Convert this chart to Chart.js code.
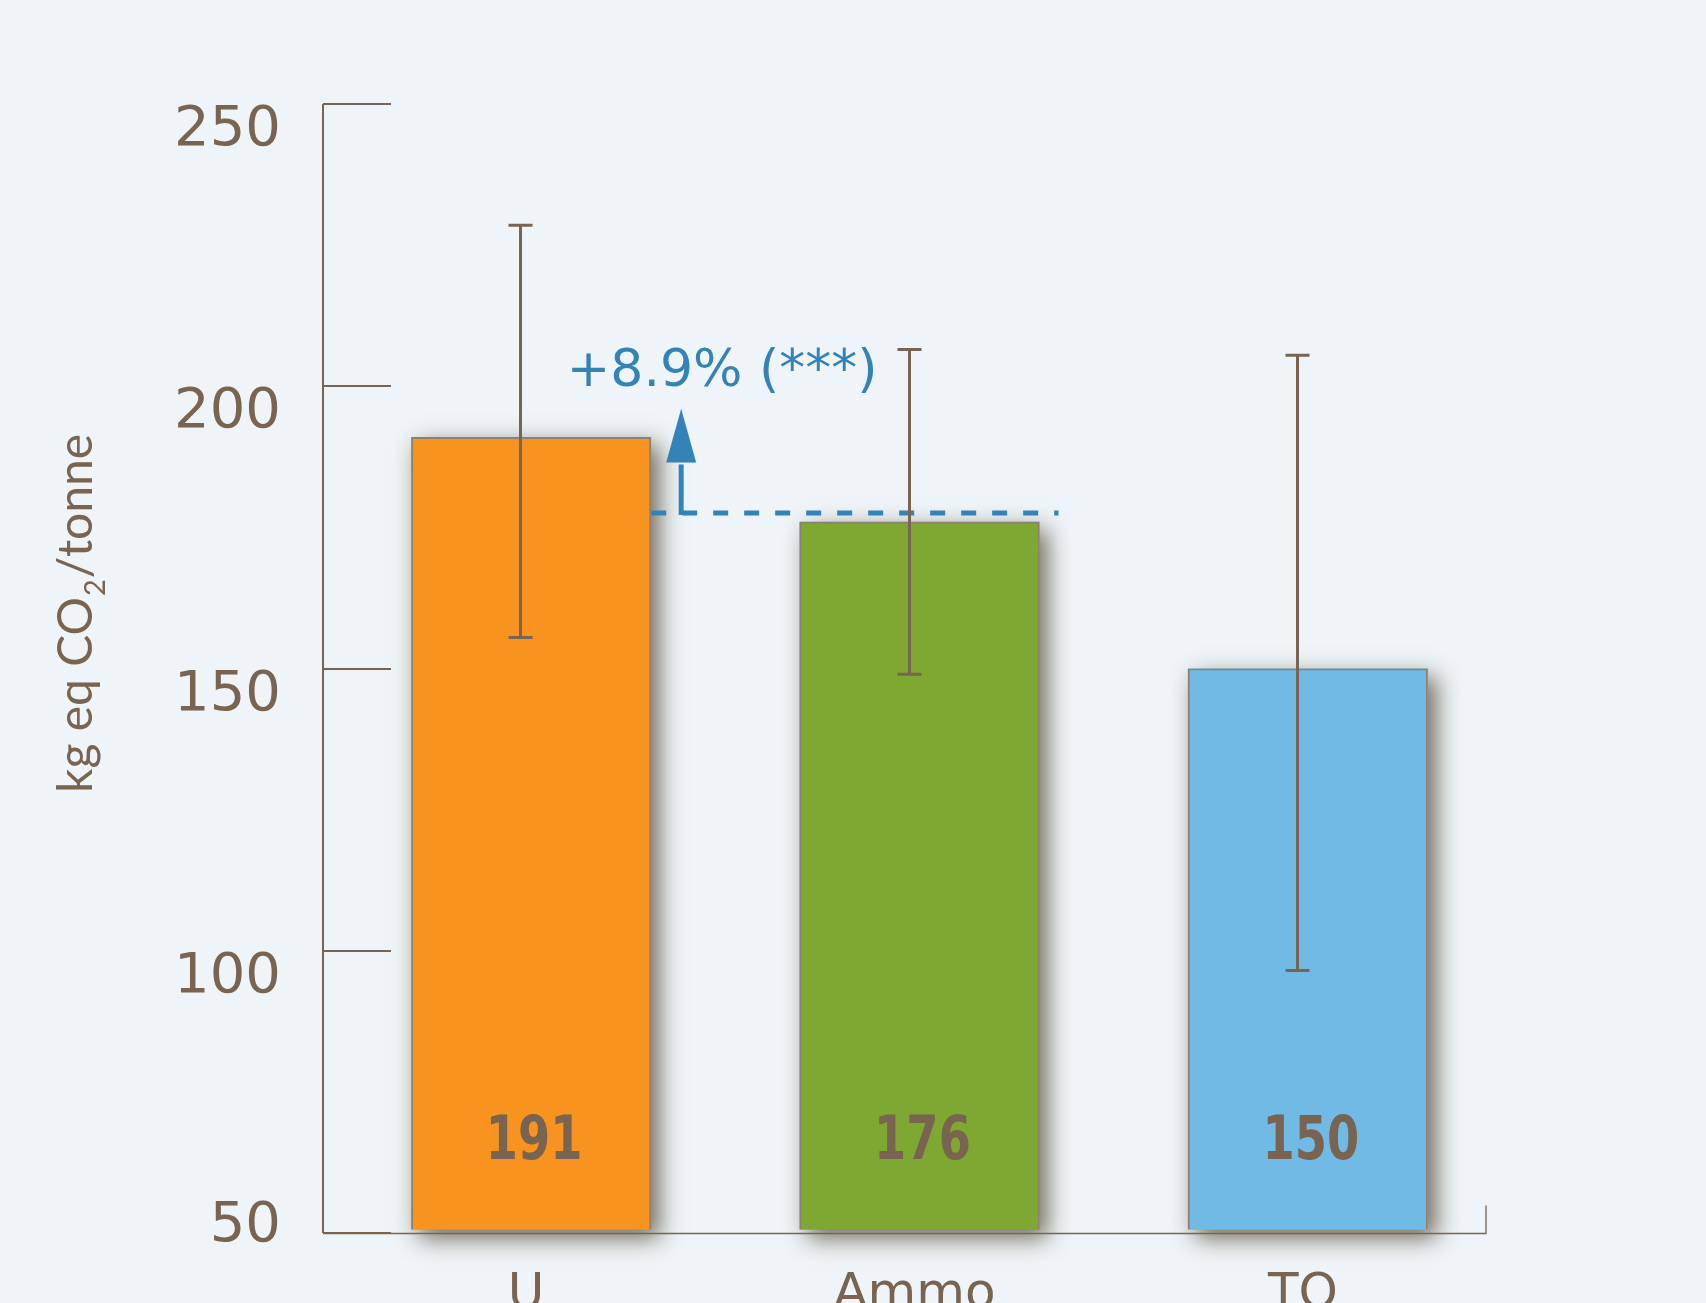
<!DOCTYPE html>
<html>
<head>
<meta charset="utf-8">
<title>kg eq CO2/tonne</title>
<script src="https://cdn.jsdelivr.net/npm/chart.js@4.4.0/dist/chart.umd.min.js"></script>
<style>
  html, body { margin: 0; padding: 0; background: #eef4f7; }
  canvas { display: block; }
</style>
</head>
<body>
<canvas id="myChart" width="1706" height="1303"></canvas>
<script>
const categories = ['U', 'Ammo', 'TO'];
const emissions = [191, 176, 150];
const errorLow = [155.5, 149, 96.5];
const errorHigh = [228.5, 206.5, 205.5];
const yTicks = [50, 100, 150, 200, 250];

// the "+8.9%" annotation between U and Ammo
const refLevel = 177.5;
const arrowTipLevel = 196;
const arrowHeadLevel = 186.5;
const gainText = '+8.9% (***)';
const gainTextLevel = 200;
const valueLabelLevel = 67;
const barBase = 50.6;

const barColors = ['#f7931e', '#7ea831', '#72bae6'];
const brown = '#786450';
const blue = '#3382b8';

const ctx = document.getElementById('myChart');

const overlay = {
    id: 'overlay',
    beforeDraw(chart) {
        const c = chart.ctx;
        c.save();
        c.fillStyle = '#eef4f7';
        c.fillRect(0, 0, chart.width, chart.height);
        c.restore();
    },
    beforeDatasetsDraw(chart) {
        // soft drop shadow behind every bar
        const c = chart.ctx;
        const bars = chart.getDatasetMeta(0).data;
        c.save();
        c.shadowColor = 'rgba(70, 58, 38, 0.75)';
        c.shadowBlur = 22;
        c.shadowOffsetX = 8;
        c.shadowOffsetY = 8;
        bars.forEach((bar, i) => {
            c.fillStyle = barColors[i];
            c.fillRect(bar.x - bar.width / 2, bar.y, bar.width, bar.base - bar.y);
        });
        c.restore();
    },
    afterDatasetsDraw(chart) {
        const c = chart.ctx;
        const area = chart.chartArea;
        const y = chart.scales.y;
        const bars = chart.getDatasetMeta(0).data;
        const axisX = area.left - 14;
        const axisEnd = area.right - 16;

        c.save();
        // axes
        c.strokeStyle = brown;
        c.lineWidth = 2;
        c.beginPath();
        c.moveTo(axisX, y.getPixelForValue(yTicks[yTicks.length - 1]));
        c.lineTo(axisX, y.getPixelForValue(yTicks[0]));
        c.stroke();
        yTicks.forEach(v => {
            const py = Math.round(y.getPixelForValue(v));
            c.beginPath();
            c.moveTo(axisX, py);
            c.lineTo(axisX + 68, py);
            c.stroke();
        });
        const bottom = Math.round(y.getPixelForValue(yTicks[0])) + 0.5;
        c.lineWidth = 1.3;
        c.beginPath();
        c.moveTo(axisX, bottom);
        c.lineTo(axisEnd, bottom);
        c.lineTo(axisEnd, bottom - 28);
        c.stroke();

        // tick labels
        c.fillStyle = brown;
        c.font = '56px "DejaVu Sans"';
        c.textAlign = 'right';
        yTicks.forEach((v, i) => {
            const py = y.getPixelForValue(v);
            c.fillText(String(v), axisX - 42, i === 0 ? py + 8 : py + 41);
        });

        // category labels
        c.font = '50px "DejaVu Sans"';
        c.textAlign = 'center';
        bars.forEach((bar, i) => {
            c.fillText(categories[i], bar.x - 5, area.bottom + 75);
        });

        // axis title
        c.save();
        c.translate(92, 793);
        c.rotate(-Math.PI / 2);
        c.textAlign = 'left';
        const fs = 48;
        c.font = fs + 'px Lato';
        let tx = 0;
        c.fillText('kg eq CO', tx, 0);
        tx += c.measureText('kg eq CO').width;
        c.font = Math.round(fs * 0.6) + 'px Lato';
        c.fillText('2', tx + 1, fs * 0.28);
        tx += c.measureText('2').width + 2;
        c.font = fs + 'px Lato';
        c.fillText('/tonne', tx, 0);
        c.restore();

        // dashed reference line
        const refY = Math.round(y.getPixelForValue(refLevel));
        const uRight = bars[0].x + bars[0].width / 2;
        const ammoRight = bars[1].x + bars[1].width / 2;
        c.strokeStyle = blue;
        c.lineWidth = 5;
        c.setLineDash([15, 16]);
        c.beginPath();
        c.moveTo(uRight, refY);
        c.lineTo(ammoRight + 19, refY);
        c.stroke();
        c.setLineDash([]);

        // arrow
        const ax = uRight + 30;
        const headY = y.getPixelForValue(arrowHeadLevel);
        const tipY = y.getPixelForValue(arrowTipLevel);
        c.lineWidth = 5;
        c.beginPath();
        c.moveTo(ax, refY + 2);
        c.lineTo(ax, headY + 2);
        c.stroke();
        c.fillStyle = blue;
        c.beginPath();
        c.moveTo(ax - 15, headY);
        c.lineTo(ax + 15, headY);
        c.lineTo(ax, tipY);
        c.closePath();
        c.fill();

        c.font = '52px "DejaVu Sans"';
        c.textAlign = 'center';
        c.fillText(gainText, ax + 41, y.getPixelForValue(gainTextLevel));

        // error bars
        c.strokeStyle = brown;
        c.lineWidth = 3;
        bars.forEach((bar, i) => {
            const ex = Math.round(bar.x - 11) + 0.5;
            const top = y.getPixelForValue(errorHigh[i]);
            const low = y.getPixelForValue(errorLow[i]);
            c.beginPath();
            c.moveTo(ex, top);
            c.lineTo(ex, low);
            c.moveTo(ex - 12, top);
            c.lineTo(ex + 12, top);
            c.moveTo(ex - 12, low);
            c.lineTo(ex + 12, low);
            c.stroke();
        });

        // value labels, squeezed a little to look condensed
        c.fillStyle = brown;
        c.font = 'bold 61px "DejaVu Sans"';
        c.textAlign = 'center';
        bars.forEach((bar, i) => {
            c.save();
            c.translate(bar.x + 3, y.getPixelForValue(valueLabelLevel) + 22);
            c.scale(0.76, 1);
            c.fillText(String(emissions[i]), 0, 0);
            c.restore();
        });
        c.restore();
    }
};

new Chart(ctx, {
    type: 'bar',
    data: {
        labels: categories,
        datasets: [{
            data: emissions,
            base: barBase,
            backgroundColor: barColors,
            borderColor: '#8c8272',
            borderWidth: 2,
            barPercentage: 0.618,
            categoryPercentage: 1,
            clip: false
        }]
    },
    options: {
        responsive: false,
        devicePixelRatio: 1,
        animation: false,
        layout: {
            padding: { left: 337, right: 204, top: 104, bottom: 70 }
        },
        plugins: {
            legend: { display: false },
            tooltip: { enabled: false }
        },
        scales: {
            x: { display: false },
            y: {
                display: false,
                min: yTicks[0],
                max: yTicks[yTicks.length - 1]
            }
        }
    },
    plugins: [overlay]
});
</script>
</body>
</html>
